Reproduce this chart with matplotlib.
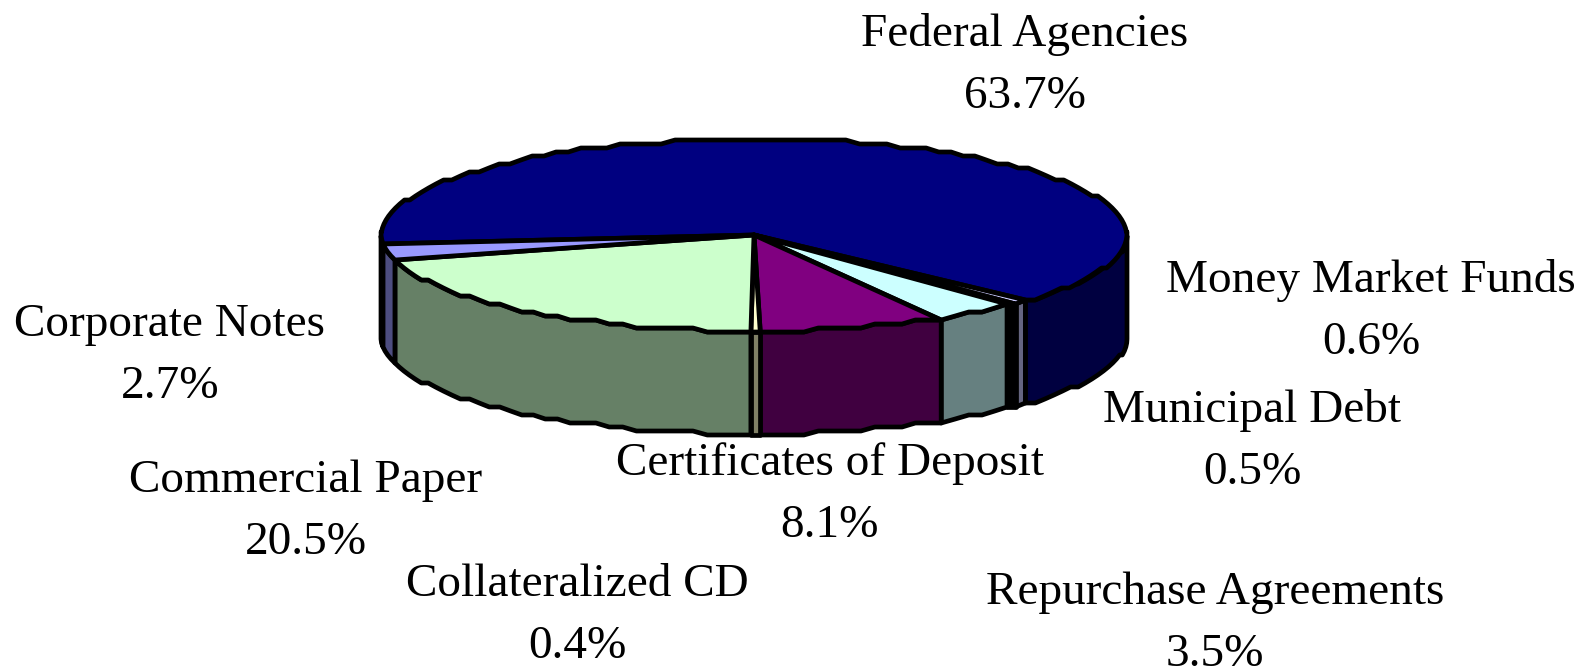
import numpy as np
import matplotlib
matplotlib.use('Agg')
import matplotlib.pyplot as plt

# ------------------------- Datos -------------------------
nombres = ['Federal Agencies', 'Money Market Funds', 'Municipal Debt', 'Repurchase Agreements',
           'Certificates of Deposit', 'Collateralized CD', 'Commercial Paper', 'Corporate Notes']
valores = [63.7, 0.6, 0.5, 3.5, 8.1, 0.4, 20.5, 2.7]

colores = ['#000080', '#CCCCFF', '#111111', '#CCFFFF', '#800080', '#FFFFCC', '#CCFFCC', '#9999FF']
paredes = ['#000040', '#666680', '#000000', '#668080', '#400040', '#808066', '#668066', '#4D4D80']

etiqueta_x = [1025, 1371, 1252, 1215, 830, 577, 306, 170]
etiqueta_y = [65, 312, 441, 624, 495, 616, 512, 356]

# ------------------------- Geometria -------------------------
cx, cy = 754, 235
a, b = 373, 96
alto = 103
inicio = 186
escalon = 4


def borde(t1, t2):
    # arco de la elipse, con escalones como la imagen original de baja resolucion
    n = max(int(abs(t1 - t2) / 2.2), 1) + 1
    t = np.radians(np.linspace(t1, t2, n))
    x = cx + a * np.cos(t)
    y = cy - b * np.sin(t)
    y = np.round(y / escalon) * escalon
    return x, y


fig = plt.figure(figsize=(15.89, 6.70), dpi=100)
ax = fig.add_axes([0, 0, 1, 1])
ax.set_xlim(0, 1589)
ax.set_ylim(670, 0)
ax.axis('off')

angulos = inicio - np.concatenate([[0], np.cumsum(valores)]) * 3.6

# paredes laterales, solo la parte frontal de la elipse
for i in range(len(valores)):
    t1, t2 = angulos[i], angulos[i + 1]
    for lim1, lim2 in [(0, -180), (360, 180)]:
        s1, s2 = min(t1, lim1), max(t2, lim2)
        if s1 > s2:
            x, y = borde(s1, s2)
            ax.fill(np.r_[x, x[::-1]], np.r_[y, y[::-1] + alto], facecolor=paredes[i],
                    edgecolor='black', linewidth=3.4, joinstyle='round', zorder=2)

# caras superiores
for i in range(len(valores)):
    x, y = borde(angulos[i], angulos[i + 1])
    ax.fill(np.r_[cx, x], np.r_[cy, y], facecolor=colores[i],
            edgecolor='black', linewidth=3.4, joinstyle='round', zorder=3)

# ------------------------- Etiquetas -------------------------
for nombre, valor, ex, ey in zip(nombres, valores, etiqueta_x, etiqueta_y):
    ax.text(ex, ey, f'{nombre}\n{valor}%', ha='center', va='center', multialignment='center',
            family='Liberation Serif', fontsize=34, color='black', linespacing=1.6, zorder=5)

fig.savefig('out.png', dpi=100, facecolor='white')
